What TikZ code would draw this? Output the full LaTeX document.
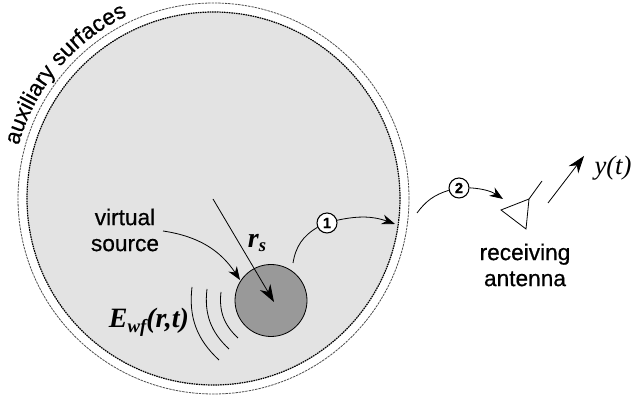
\documentclass[tikz,border=0pt]{standalone}
\usepackage{fontspec}
\setmainfont[FakeBold=0.6]{Liberation Sans}
\newfontfamily\serifbi[BoldItalicFont={Liberation Serif Bold Italic}]{Liberation Serif}
\usetikzlibrary{arrows.meta,decorations.text}
\newcommand{\lblfont}{\fontsize{17}{19.5}\selectfont}
\newcommand{\symfont}{\fontsize{21}{23}\serifbi\bfseries\itshape}
\tikzset{
    lbl/.style={align=center,inner sep=0pt,font=\lblfont},
    sym/.style={inner sep=0pt,font=\symfont},
    numdot/.style={circle,draw,thick,fill=white,inner sep=0pt,minimum size=15pt,font=\fontsize{11}{11}\selectfont\bfseries},
    bigtip/.style={-{Stealth[length=13pt,width=9pt]}},
    midtip/.style={-{Stealth[length=10pt,width=7.5pt]}},
    wave/.style={semithick}
}
\begin{document}
\begin{tikzpicture}[x=0.75pt,y=0.75pt]
    \useasboundingbox (0,0) rectangle (631,398);

    % Surfaces
    \coordinate (centre) at (213.5,199.5);
    \node[circle,minimum size=293.25pt,inner sep=0pt,draw=black!70,line width=0.6pt,dash pattern=on 1.8pt off 0.7pt] (outer) at (centre) {};
    \node[circle,minimum size=279.75pt,inner sep=0pt,fill=black!11,draw=black,line width=0.9pt,dash pattern=on 1.2pt off 0.6pt] (inner) at (centre) {};
    \path[decorate,decoration={text along path,text align=center,text={|\lblfont|auxiliary surfaces}}]
        ([shift={(164.5:202)}]centre) arc[start angle=164.5,end angle=115.5,radius=202];

    % Virtual source
    \node[circle,minimum size=54pt,inner sep=0pt,fill=black!40,draw=black,semithick] (source) at (271,97.5) {};
    \node[lbl] (virtual) at (125,168) {virtual\\source};
    \coordinate (virtualend) at (163,167);
    \coordinate (virtualtip) at (240,118);
    \draw[midtip,semithick] (virtualend) to[bend left=24] (virtualtip);

    % Radius
    \coordinate (rstart) at (213,199);
    \coordinate (rtip) at (274,96);
    \draw[bigtip,semithick] (rstart) -- (rtip);
    \node[sym] (rs) at (257,155) {r\raisebox{-3pt}{\fontsize{14}{14}\selectfont s}};

    % Field
    \node[sym] (field) at (149,76) {E\raisebox{-4pt}{\fontsize{14}{14}\selectfont wf}(r,t)};
    \draw[wave] (192,111) to[bend right=27] (219,38);
    \draw[wave] (207,109) to[bend right=27] (229,49);
    \draw[wave] (221,106) to[bend right=27] (238,60);

    % Propagation
    \node[numdot] (one) at (327,175) {1};
    \node[numdot] (two) at (459,210) {2};
    \coordinate (onestart) at (293,135);
    \coordinate (onetip) at (395,174);
    \coordinate (twostart) at (417,185);
    \coordinate (twotip) at (503,199);
    \draw[semithick] (onestart) to[bend left=25] (one);
    \draw[midtip,semithick] (one) to[bend left=16] (onetip);
    \draw[semithick] (twostart) to[bend left=18] (two);
    \draw[midtip,semithick] (two) to[bend left=15] (twotip);

    % Antenna
    \coordinate (apex) at (501,188);
    \coordinate (feed) at (529,199);
    \coordinate (base) at (526,169);
    \coordinate (stem) at (542,217);
    \draw[semithick] (apex) -- (feed) -- (base) -- cycle;
    \draw[semithick] (feed) -- (stem);
    \node[lbl] (antenna) at (525,133) {receiving\\antenna};

    % Output
    \coordinate (ystart) at (548,195);
    \coordinate (ytip) at (584,242);
    \draw[bigtip,semithick] (ystart) -- (ytip);
    \node[sym,font=\fontsize{20}{22}\serifbi\itshape] (output) at (613,230) {y(t)};
\end{tikzpicture}
\end{document}
